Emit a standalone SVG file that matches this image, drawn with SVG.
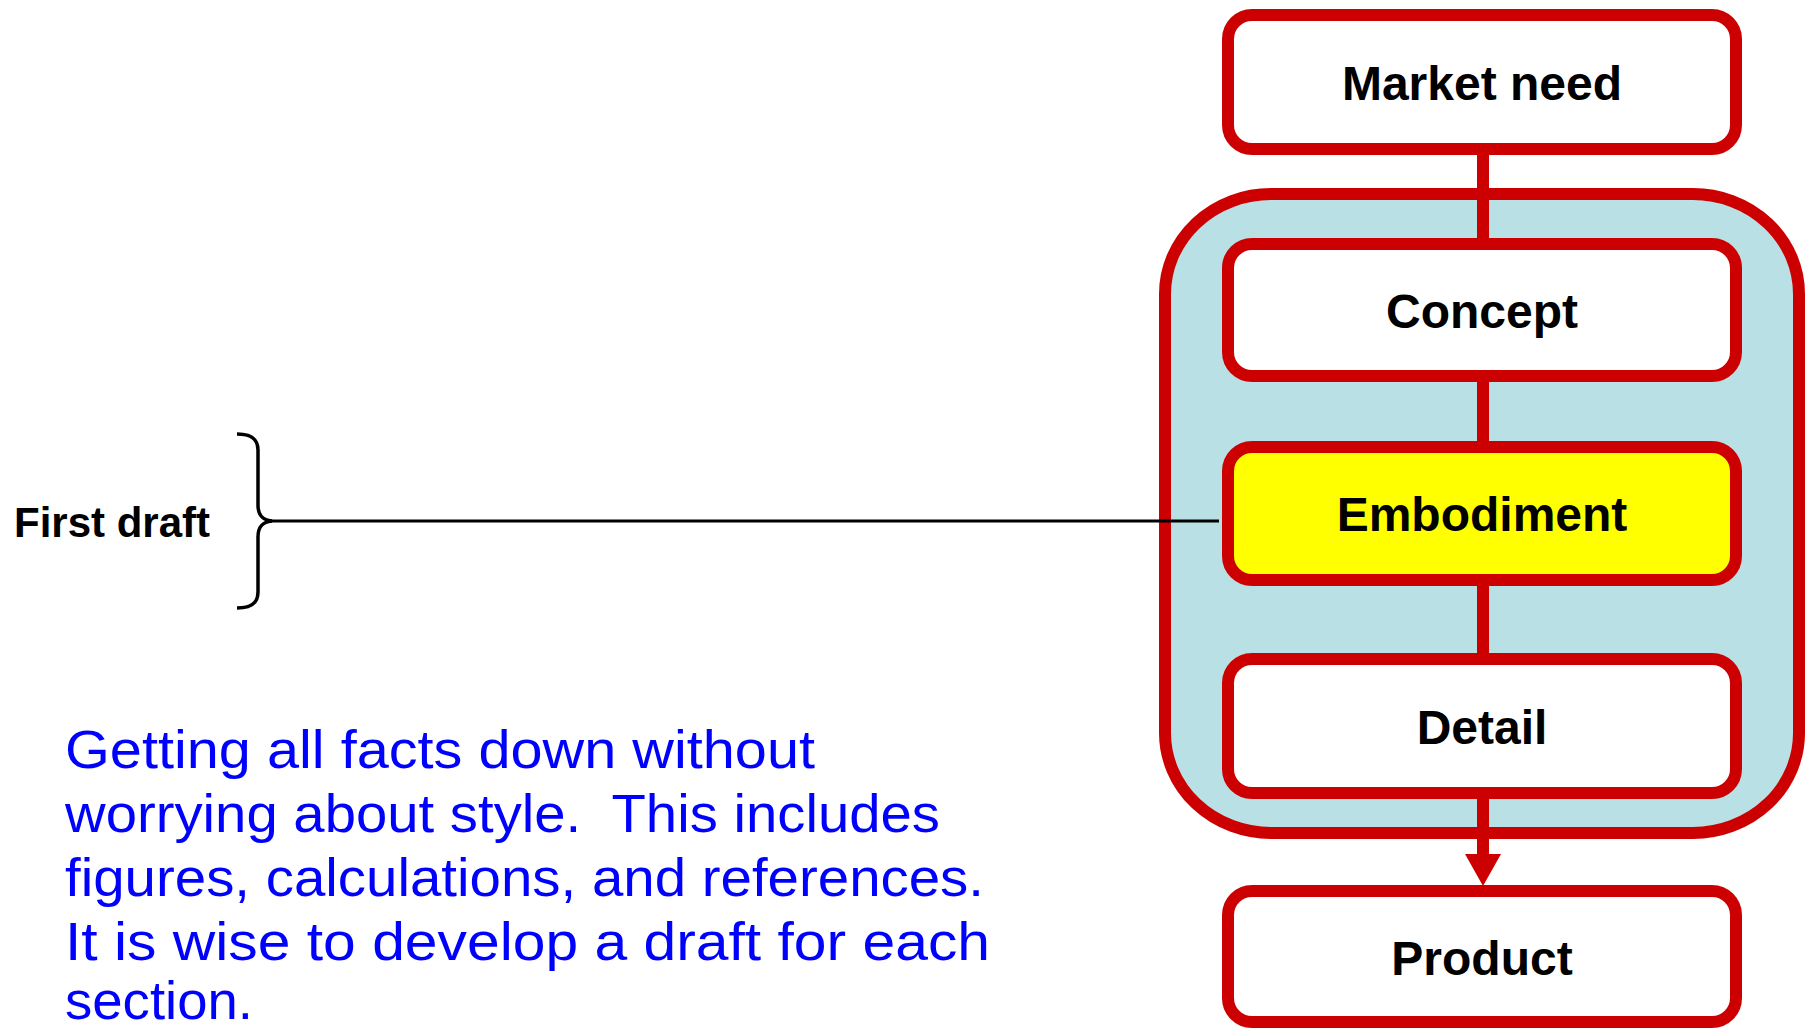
<svg xmlns="http://www.w3.org/2000/svg" width="1807" height="1028" viewBox="0 0 1807 1028">
  <style>
    .box { fill: #FFFFFF; stroke: #CC0000; stroke-width: 12; }
    .lbl { font-family: "Liberation Sans", Arial, sans-serif; font-weight: bold; font-size: 48px; fill: #000000; text-anchor: middle; }
    .conn { stroke: #CC0000; stroke-width: 12; fill: none; }
    .note { font-family: "Liberation Sans", Arial, sans-serif; font-size: 54px; fill: #0000FF; }
  </style>
  <rect width="1807" height="1028" fill="#FFFFFF"/>

  <g id="container">
    <rect x="1165" y="194" width="634" height="639" rx="106" ry="100" fill="#B9E0E4" stroke="#CC0000" stroke-width="12"/>
  </g>

  <g id="connectors">
    <line class="conn" x1="1483" y1="155" x2="1483" y2="238"/>
    <line class="conn" x1="1483" y1="382" x2="1483" y2="441"/>
    <line class="conn" x1="1483" y1="586" x2="1483" y2="653"/>
    <line class="conn" x1="1483" y1="799" x2="1483" y2="856"/>
    <polygon points="1465,854 1501,854 1483,886" fill="#CC0000"/>
    <line x1="268" y1="521" x2="1219" y2="521" stroke="#000000" stroke-width="3"/>
  </g>

  <g id="market-need">
    <rect class="box" x="1228" y="15" width="508" height="134" rx="24"/>
    <text class="lbl" x="1482" y="100">Market need</text>
  </g>
  <g id="concept">
    <rect class="box" x="1228" y="244" width="508" height="132" rx="24"/>
    <text class="lbl" x="1482" y="328">Concept</text>
  </g>
  <g id="embodiment">
    <rect class="box" x="1228" y="447" width="508" height="133" rx="24" style="fill:#FFFF00"/>
    <text class="lbl" x="1482" y="531">Embodiment</text>
  </g>
  <g id="detail">
    <rect class="box" x="1228" y="659" width="508" height="134" rx="24"/>
    <text class="lbl" x="1482" y="744">Detail</text>
  </g>
  <g id="product">
    <rect class="box" x="1228" y="891" width="508" height="131" rx="24"/>
    <text class="lbl" x="1482" y="975">Product</text>
  </g>

  <g id="first-draft">
    <text x="14" y="537" font-family="Liberation Sans, Arial, sans-serif" font-weight="bold" font-size="42px" fill="#000000">First draft</text>
    <path d="M237,434 C250,434 258,438 258,450 L258,505 C258,515 262,520 272,521 C262,522 258,527 258,537 L258,592 C258,604 250,608 237,608" fill="none" stroke="#000000" stroke-width="3.5"/>
  </g>

  <g id="note">
    <text class="note" x="65" y="768" textLength="750" lengthAdjust="spacingAndGlyphs">Getting all facts down without</text>
    <text class="note" x="65" y="832" textLength="875" lengthAdjust="spacingAndGlyphs" xml:space="preserve">worrying about style.  This includes</text>
    <text class="note" x="65" y="896" textLength="919" lengthAdjust="spacingAndGlyphs">figures, calculations, and references.</text>
    <text class="note" x="65" y="960" textLength="925" lengthAdjust="spacingAndGlyphs">It is wise to develop a draft for each</text>
    <text class="note" x="65" y="1019" textLength="188" lengthAdjust="spacingAndGlyphs">section.</text>
  </g>
</svg>
